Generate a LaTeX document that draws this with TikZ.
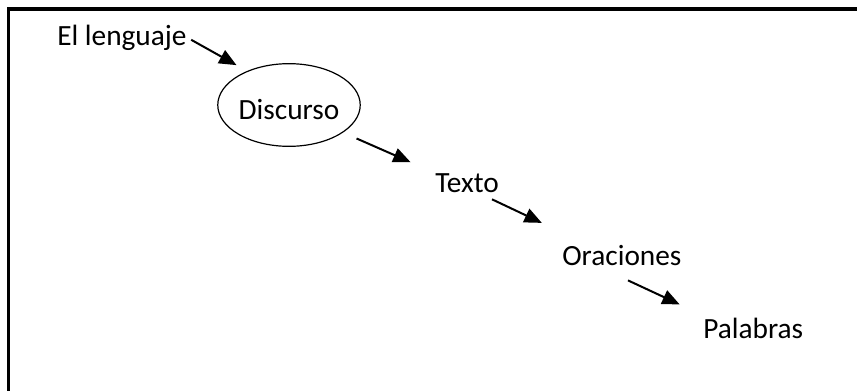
\documentclass[tikz,border=0pt]{standalone}
\usepackage{fontspec}
\setmainfont{Carlito}
\usetikzlibrary{arrows.meta,shapes.geometric}
\begin{document}
\begin{tikzpicture}[x=0.75pt, y=-0.75pt,
  word/.style={inner sep=0pt, anchor=base west, font=\fontsize{22pt}{26pt}\selectfont},
  link/.style={line width=1.5pt, -{Triangle[length=13pt, width=11pt]}}]
\useasboundingbox (0,0) rectangle (857,390);
% frame, only its top and left sides fall inside the page
\draw[line width=2.6pt] (870,9) -- (8.5,9) -- (8.5,400);
\node[word] (lang) at (57,45) {El lenguaje};
\node[draw, ellipse, line width=0.9pt, inner sep=0pt, minimum width=106.5pt, minimum height=62pt,
  text height=21pt, text depth=0pt,
  font=\fontsize{22pt}{26pt}\selectfont] (disc) at (289,105) {Discurso};
\node[word] (texto) at (435,192) {Texto};
\node[word] (orac) at (562,265) {Oraciones};
\node[word] (pal) at (703,338) {Palabras};
\draw[link, shorten <=3.75pt, shorten >=9pt] (lang.east) -- (disc.141);
\draw[link, shorten <=11pt, shorten >=20pt] (disc.-27) -- (texto.north west);
\draw[link, shorten <=12pt, shorten >=38pt] (texto.-43) -- (orac.163);
\draw[link, shorten <=26.5pt, shorten >=23pt] (orac.202) -- (pal.167);
\end{tikzpicture}
\end{document}
